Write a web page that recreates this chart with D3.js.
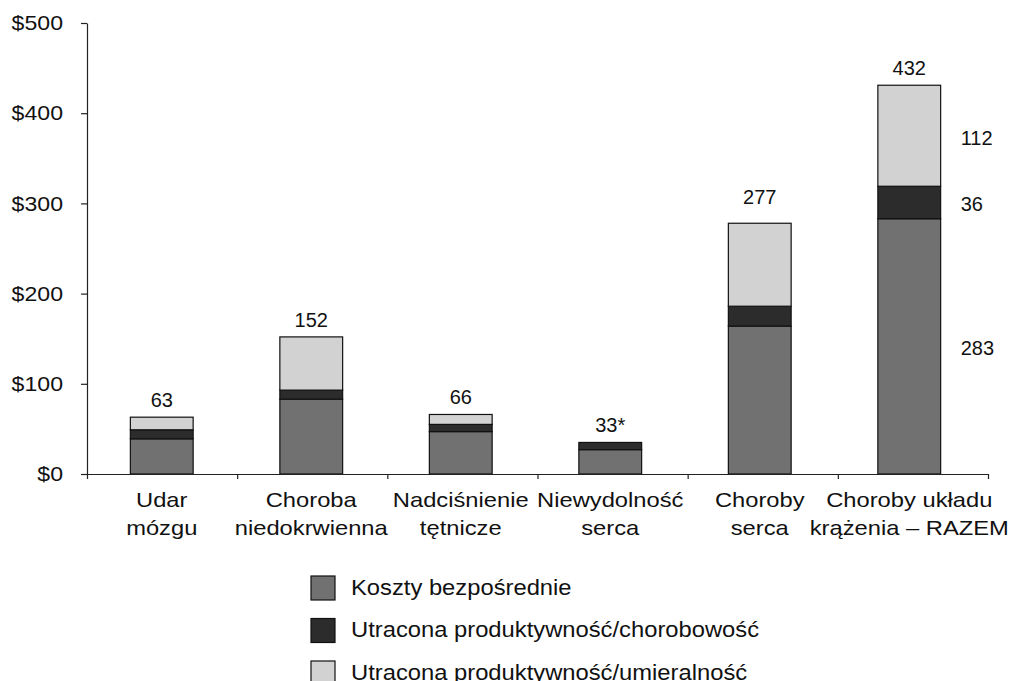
<!DOCTYPE html>
<html>
<head>
<meta charset="utf-8">
<script src="https://cdn.jsdelivr.net/npm/d3@7"></script>
<style>
  body { margin: 0; background: #fff; }
  svg text { font-family: "Liberation Sans", Arial, sans-serif; fill: #111; }
</style>
</head>
<body>
<div id="chart"></div>
<script>
'use strict'

// Data.
const categories = ['Udar\nmózgu', 'Choroba\nniedokrwienna', 'Nadciśnienie\ntętnicze',
    'Niewydolność\nserca', 'Choroby\nserca', 'Choroby układu\nkrążenia – RAZEM'];
const seriesNames = ['Koszty bezpośrednie', 'Utracona produktywność/chorobowość',
    'Utracona produktywność/umieralność'];
const directCosts = [39, 83, 47, 27, 164, 283];
const morbidityLoss = [10, 10, 8, 8, 22, 36];
const mortalityLoss = [14, 59, 11, 0, 92, 112];
const totalLabels = ['63', '152', '66', '33*', '277', '432'];
const yTicks = [0, 100, 200, 300, 400, 500];

const colors = ['#717171', '#2c2c2c', '#d2d2d2'];
const keys = ['direct', 'morbidity', 'mortality'];

const width = 1010,
    height = 681,
    axisLeft = 87,
    axisRight = 988,
    baseY = 474,
    topY = 23;

const rows = categories.map((c, i) => ({
    cat: c,
    direct: directCosts[i],
    morbidity: morbidityLoss[i],
    mortality: mortalityLoss[i],
    label: totalLabels[i]
}));

// The source text is a bit wider than it is tall; widen glyphs to match.
function widen(sel, sx) {
    sel.each(function() {
        const w = this.getComputedTextLength();
        d3.select(this)
            .attr('textLength', w * sx)
            .attr('lengthAdjust', 'spacingAndGlyphs');
    });
}

const svg = d3.select('#chart')
    .append('svg')
    .attr('width', width)
    .attr('height', height);

// Scales.
const x = d3.scaleBand()
    .domain(categories)
    .range([axisLeft, axisRight - 4])
    .paddingInner(0.58)
    .paddingOuter(0.29);

const y = d3.scaleLinear()
    .domain([0, 500])
    .range([baseY, topY]);

// Band edges for the x-axis ticks.
const xEdges = d3.scaleLinear()
    .domain([0, categories.length])
    .range([axisLeft, axisRight]);

const stacked = d3.stack().keys(keys)(rows);

// Bars.
svg.append('g')
    .selectAll('g')
    .data(stacked)
    .join('g')
    .attr('fill', (d, i) => colors[i])
    .selectAll('rect')
    .data(d => d.filter(s => s[1] - s[0] > 0))
    .join('rect')
    .attr('x', d => x(d.data.cat))
    .attr('y', d => y(d[1]))
    .attr('width', x.bandwidth())
    .attr('height', d => y(d[0]) - y(d[1]))
    .attr('stroke', '#111')
    .attr('stroke-width', 1.2);

// Y axis.
const yAxis = svg.append('g')
    .attr('transform', `translate(${axisLeft},0)`)
    .call(d3.axisLeft(y)
        .tickValues(yTicks)
        .tickSize(6)
        .tickSizeOuter(0)
        .tickPadding(18)
        .tickFormat(d => '$' + d));

// X axis (ticks on band edges, no labels).
const xAxis = svg.append('g')
    .attr('transform', `translate(0,${baseY})`)
    .call(d3.axisBottom(xEdges)
        .tickValues(d3.range(categories.length + 1))
        .tickSize(5)
        .tickSizeOuter(0)
        .tickFormat(''));

[yAxis, xAxis].forEach(g => {
    g.selectAll('path, line').attr('stroke', '#222').attr('stroke-width', 1.2);
    g.selectAll('text')
        .style('font-size', '21px')
        .attr('fill', '#111');
});
widen(yAxis.selectAll('text'), 1.1);

// Category labels, two lines each.
const catLabels = svg.append('g')
    .selectAll('g')
    .data(categories)
    .join('g')
    .attr('transform', d => `translate(${x(d) + x.bandwidth() / 2},0)`);

catLabels.selectAll('text')
    .data(d => d.split('\n'))
    .join('text')
    .attr('y', (d, i) => 507 + i * 28)
    .attr('text-anchor', 'middle')
    .style('font-size', '21px')
    .text(d => d)
    .call(widen, 1.13);

// Total labels over the bars.
const labelNudge = {'Choroby\nserca': 9};

svg.append('g')
    .selectAll('text')
    .data(rows)
    .join('text')
    .attr('x', d => x(d.cat) + x.bandwidth() / 2)
    .attr('y', d => y(d.direct + d.morbidity + d.mortality) - 10 - (labelNudge[d.cat] || 0))
    .attr('text-anchor', 'middle')
    .style('font-size', '20px')
    .text(d => d.label);

// Segment values next to the last bar.
const last = rows[rows.length - 1];
const lastSegs = stacked.map(s => s[rows.length - 1]);

svg.append('g')
    .selectAll('text')
    .data(lastSegs)
    .join('text')
    .attr('x', x(last.cat) + x.bandwidth() + 20)
    .attr('y', d => (y(d[0]) + y(d[1])) / 2 + 9)
    .style('font-size', '20px')
    .text(d => d[1] - d[0]);

// Legend.
const legend = svg.append('g')
    .attr('transform', 'translate(311,576)')
    .selectAll('g')
    .data(seriesNames)
    .join('g')
    .attr('transform', (d, i) => `translate(0,${i * 42.5})`);

legend.append('rect')
    .attr('width', 24)
    .attr('height', 24)
    .attr('fill', (d, i) => colors[i])
    .attr('stroke', '#111')
    .attr('stroke-width', 1.2);

legend.append('text')
    .attr('x', 40)
    .attr('y', 18.5)
    .style('font-size', '22px')
    .text(d => d)
    .call(widen, 1.08);
</script>
</body>
</html>
